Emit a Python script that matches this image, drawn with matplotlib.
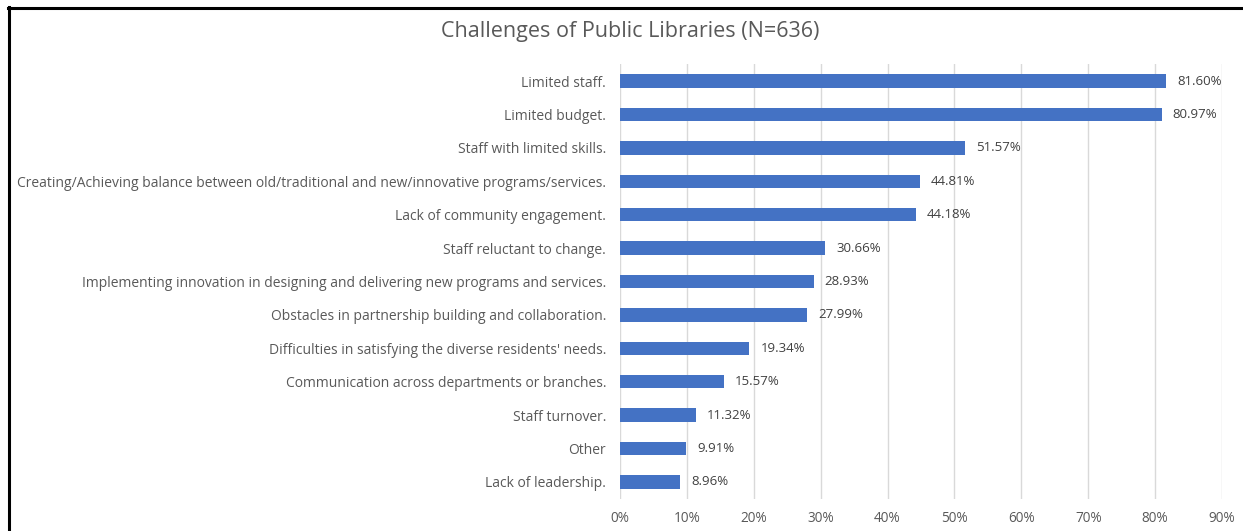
import matplotlib
matplotlib.use("Agg")
import matplotlib.pyplot as plt
from matplotlib.lines import Line2D
from matplotlib.ticker import MultipleLocator, FuncFormatter

categories = [
    "Limited staff.",
    "Limited budget.",
    "Staff with limited skills.",
    "Creating/Achieving balance between old/traditional and new/innovative programs/services.",
    "Lack of community engagement.",
    "Staff reluctant to change.",
    "Implementing innovation in designing and delivering new programs and services.",
    "Obstacles in partnership building and collaboration.",
    "Difficulties in satisfying the diverse residents' needs.",
    "Communication across departments or branches.",
    "Staff turnover.",
    "Other",
    "Lack of leadership.",
]
values = [81.60, 80.97, 51.57, 44.81, 44.18, 30.66, 28.93, 27.99, 19.34, 15.57, 11.32, 9.91, 8.96]
title = "Challenges of Public Libraries (N=636)"

plt.rcParams['font.family'] = ['Open Sans', 'DejaVu Sans']

W, H = 1243, 531
fig = plt.figure(figsize=(W / 100, H / 100), dpi=100)
ax = fig.add_axes([620 / W, 1 - 498.7 / H, (1222 - 620) / W, (498.7 - 64.3) / H])

pos = list(range(len(categories)))
ax.barh(pos, values, height=0.4, color="#4472C4", zorder=3)
ax.set_ylim(len(categories) - 0.5, -0.5)
ax.set_xlim(0, 90)
ax.xaxis.set_major_locator(MultipleLocator(10))
ax.xaxis.set_major_formatter(FuncFormatter(lambda v, p: f"{v:.0f}%"))
ax.set_yticks(pos)
ax.set_yticklabels(categories)
ax.tick_params(axis="both", length=0, labelcolor="#595959")
ax.tick_params(axis="y", pad=10, labelsize=10)
ax.tick_params(axis="x", pad=9, labelsize=9.8)
ax.grid(axis="x", color="#D9D9D9", linewidth=1, zorder=0)
for s in ax.spines.values():
    s.set_visible(False)

for p, v in zip(pos, values):
    ax.annotate(f"{v:.2f}%", (v, p), xytext=(8, 0), textcoords="offset points",
                va="center", ha="left", fontsize=9.5, color="#404040")

fig.text(630 / W, 1 - 31.5 / H, title, ha="center", va="center", fontsize=15.5, color="#595959")

fig.add_artist(Line2D([8 / W, 1], [1 - 7.5 / H, 1 - 7.5 / H], color="black", linewidth=2.2))
fig.add_artist(Line2D([8.5 / W, 8.5 / W], [0, 1 - 7 / H], color="black", linewidth=2.2))

fig.savefig("out.png", dpi=100)
